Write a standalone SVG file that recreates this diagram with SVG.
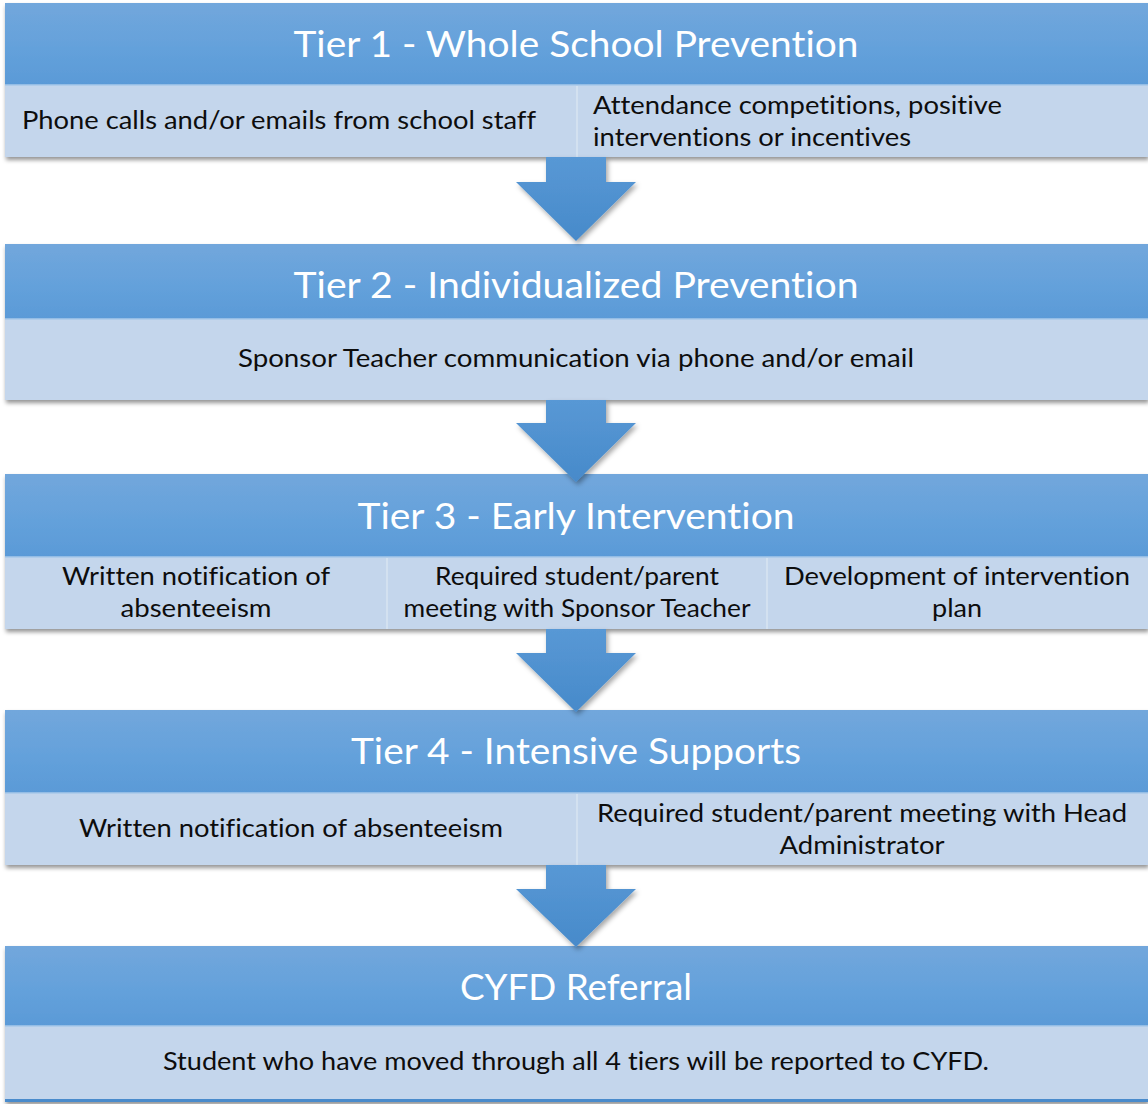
<svg xmlns="http://www.w3.org/2000/svg" width="1148" height="1104" viewBox="0 0 1148 1104">
  <defs>
    <linearGradient id="hdr" x1="0" y1="0" x2="0" y2="1">
      <stop offset="0" stop-color="#72a7dc"/>
      <stop offset="0.55" stop-color="#64a1db"/>
      <stop offset="1" stop-color="#5a9ad7"/>
    </linearGradient>
    <linearGradient id="arw" x1="0" y1="0" x2="0" y2="1">
      <stop offset="0" stop-color="#5898d5"/>
      <stop offset="1" stop-color="#478aca"/>
    </linearGradient>
    <filter id="shadow" x="-5%" y="-10%" width="110%" height="130%">
      <feDropShadow dx="1" dy="3" stdDeviation="2.2" flood-color="#000" flood-opacity="0.42"/>
    </filter>
    <filter id="ashadow" x="-20%" y="-10%" width="140%" height="130%">
      <feDropShadow dx="2" dy="3" stdDeviation="2.5" flood-color="#000" flood-opacity="0.35"/>
    </filter>
  </defs>
  <style>
    .hdr { fill: url(#hdr); }
    .body { fill: #c4d6ec; }
    .sep { stroke: #a8c8ea; stroke-width: 1.5; }
    .div { stroke: #d9e4f2; stroke-width: 1.5; }
    text { font-variant-ligatures: none; font-feature-settings: "liga" 0, "dlig" 0; }
    .title { font-family: Lato, "Open Sans", "Liberation Sans", sans-serif; font-size: 37.5px; fill: #ffffff; text-anchor: middle; }
    .txt { font-family: Lato, "Open Sans", "Liberation Sans", sans-serif; font-size: 25px; fill: #0d0d0d; }
    .mid { text-anchor: middle; }
    .arrow { fill: url(#arw); }
  </style>

  <!-- Tier 1 -->
  <g id="tier1">
    <g filter="url(#shadow)">
      <rect x="5" y="3" width="1143" height="82" class="hdr"/>
      <rect x="5" y="85" width="1143" height="72" class="body"/>
    </g>
    <line x1="5" y1="85" x2="1148" y2="85" class="sep"/>
    <line x1="577" y1="86" x2="577" y2="157" class="div"/>
    <text x="576" y="57" class="title" textLength="565" lengthAdjust="spacingAndGlyphs">Tier 1 - Whole School Prevention</text>
    <text x="22" y="129" class="txt" textLength="514" lengthAdjust="spacingAndGlyphs">Phone calls and/or emails from school staff</text>
    <text x="593" y="114" class="txt" textLength="409" lengthAdjust="spacingAndGlyphs">Attendance competitions, positive</text>
    <text x="593" y="146" class="txt" textLength="318" lengthAdjust="spacingAndGlyphs">interventions or incentives</text>
  </g>

  <!-- Tier 2 -->
  <g id="tier2">
    <g filter="url(#shadow)">
      <rect x="5" y="244" width="1143" height="75" class="hdr"/>
      <rect x="5" y="319" width="1143" height="81" class="body"/>
    </g>
    <line x1="5" y1="319" x2="1148" y2="319" class="sep"/>
    <text x="576" y="298" class="title" textLength="565" lengthAdjust="spacingAndGlyphs">Tier 2 - Individualized Prevention</text>
    <text x="576" y="367" class="txt mid" textLength="676" lengthAdjust="spacingAndGlyphs">Sponsor Teacher communication via phone and/or email</text>
  </g>

  <!-- Tier 3 -->
  <g id="tier3">
    <g filter="url(#shadow)">
      <rect x="5" y="474" width="1143" height="83" class="hdr"/>
      <rect x="5" y="557" width="1143" height="72" class="body"/>
    </g>
    <line x1="5" y1="557" x2="1148" y2="557" class="sep"/>
    <line x1="387" y1="558" x2="387" y2="629" class="div"/>
    <line x1="767" y1="558" x2="767" y2="629" class="div"/>
    <text x="576" y="529" class="title" textLength="437" lengthAdjust="spacingAndGlyphs">Tier 3 - Early Intervention</text>
    <text x="196" y="585" class="txt mid" textLength="268" lengthAdjust="spacingAndGlyphs">Written notification of</text>
    <text x="196" y="617" class="txt mid" textLength="151" lengthAdjust="spacingAndGlyphs">absenteeism</text>
    <text x="577" y="585" class="txt mid" textLength="284" lengthAdjust="spacingAndGlyphs">Required student/parent</text>
    <text x="577" y="617" class="txt mid" textLength="347" lengthAdjust="spacingAndGlyphs">meeting with Sponsor Teacher</text>
    <text x="957" y="585" class="txt mid" textLength="346" lengthAdjust="spacingAndGlyphs">Development of intervention</text>
    <text x="957" y="617" class="txt mid" textLength="50" lengthAdjust="spacingAndGlyphs">plan</text>
  </g>

  <!-- Tier 4 -->
  <g id="tier4">
    <g filter="url(#shadow)">
      <rect x="5" y="710" width="1143" height="83" class="hdr"/>
      <rect x="5" y="793" width="1143" height="72" class="body"/>
    </g>
    <line x1="5" y1="793" x2="1148" y2="793" class="sep"/>
    <line x1="577" y1="794" x2="577" y2="865" class="div"/>
    <text x="576" y="764" class="title" textLength="450" lengthAdjust="spacingAndGlyphs">Tier 4 - Intensive Supports</text>
    <text x="291" y="837" class="txt mid" textLength="424" lengthAdjust="spacingAndGlyphs">Written notification of absenteeism</text>
    <text x="862" y="822" class="txt mid" textLength="530" lengthAdjust="spacingAndGlyphs">Required student/parent meeting with Head</text>
    <text x="862" y="854" class="txt mid" textLength="165" lengthAdjust="spacingAndGlyphs">Administrator</text>
  </g>

  <!-- CYFD referral -->
  <g id="cyfd">
    <g filter="url(#shadow)">
      <rect x="5" y="946" width="1143" height="80" class="hdr"/>
      <rect x="5" y="1026" width="1143" height="73" class="body"/>
      <rect x="5" y="1099" width="1143" height="3" fill="#4a8bcc"/>
    </g>
    <line x1="5" y1="1026" x2="1148" y2="1026" class="sep"/>
    <text x="576" y="1000" class="title" textLength="232" lengthAdjust="spacingAndGlyphs">CYFD Referral</text>
    <text x="576" y="1070" class="txt mid" textLength="826" lengthAdjust="spacingAndGlyphs">Student who have moved through all 4 tiers will be reported to CYFD.</text>
  </g>

  <!-- Downward arrows between tiers -->
  <g id="connectors" filter="url(#ashadow)">
    <polygon class="arrow" points="546,157 606,157 606,182 636,182 576,241 516,182 546,182"/>
    <polygon class="arrow" points="546,400 606,400 606,423 636,423 576,482 516,423 546,423"/>
    <polygon class="arrow" points="546,629 606,629 606,653 636,653 576,712 516,653 546,653"/>
    <polygon class="arrow" points="546,865 606,865 606,889 636,889 576,947 516,889 546,889"/>
  </g>
</svg>
